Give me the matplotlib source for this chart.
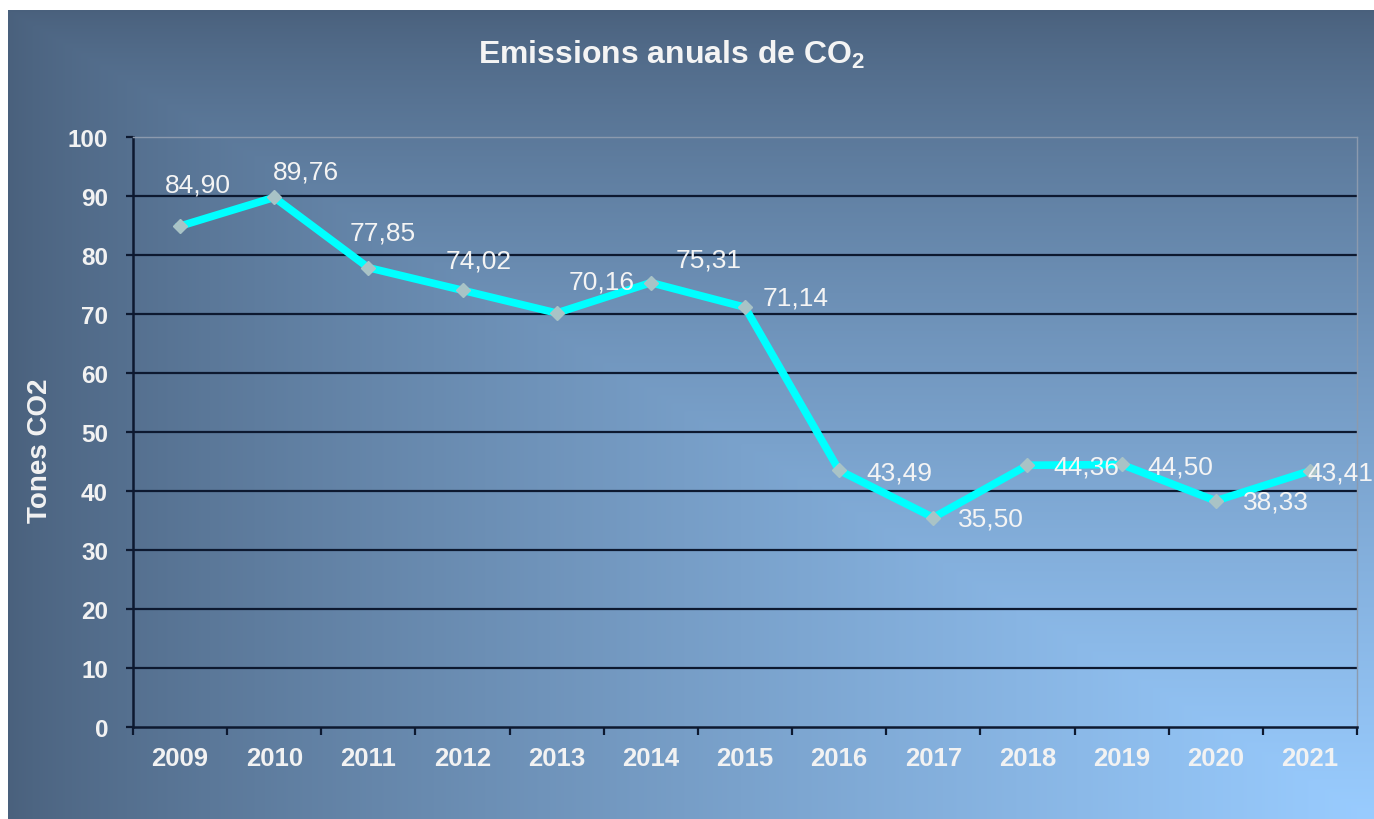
import matplotlib

matplotlib.use("Agg")
import matplotlib.pyplot as plt
import numpy as np

plt.rcParams["font.family"] = ["Liberation Sans", "DejaVu Sans"]
plt.rcParams["mathtext.fontset"] = "custom"
plt.rcParams["mathtext.rm"] = "Liberation Sans"
plt.rcParams["mathtext.bf"] = "Liberation Sans:bold"

years = ["2009", "2010", "2011", "2012", "2013", "2014", "2015",
         "2016", "2017", "2018", "2019", "2020", "2021"]
emissions = [84.90, 89.76, 77.85, 74.02, 70.16, 75.31, 71.14,
             43.49, 35.50, 44.36, 44.50, 38.33, 43.41]
yticks = [0, 10, 20, 30, 40, 50, 60, 70, 80, 90, 100]

# label offsets (pixels): left edge of text relative to point, vertical centre
label_offsets = [(-15, 42), (-1, 26), (-19, 35), (-17, 30), (12, 32), (25, 23),
                 (18, 10), (27, -2), (25, -1), (26, -1), (26, -2), (27, -1), (-3, -2)]

W, H = 1374, 820
fig = plt.figure(figsize=(W / 100, H / 100), dpi=100, facecolor="white")

# gradient backdrop (dark top/left -> light bottom-right)
bg = fig.add_axes([8 / W, 0, 1 - 8 / W, 1 - 11 / H])
u = np.linspace(0, 1, 400)[None, :]
v = np.linspace(0, 1, 300)[:, None]
f = np.minimum(u, v) ** 0.8
dark = np.array([0.29, 0.38, 0.49])
light = np.array([0.60, 0.80, 1.00])
img = dark[None, None, :] + f[..., None] * (light - dark)[None, None, :]
bg.imshow(img, aspect="auto", extent=[0, 1, 0, 1], origin="upper")
bg.set_axis_off()

ax = fig.add_axes([133 / W, 1 - 728 / H, (1357 - 133) / W, (728 - 138) / H])
ax.set_facecolor("none")

x = np.arange(len(years))
for t in yticks[1:-1]:
    ax.axhline(t, color="#0d1930", lw=1.6, zorder=1)

ax.plot(x, emissions, color="#00ffff", lw=5.5, zorder=3, solid_joinstyle="miter")
ax.plot(x, emissions, ls="none", marker="D", ms=7, color="#a9c3c6",
        mec="#a9c3c6", zorder=4)

for xi, val, (dx, dy) in zip(x, emissions, label_offsets):
    ax.annotate(f"{val:.2f}".replace(".", ","), (xi, val), xytext=(dx, dy),
                textcoords="offset pixels", ha="left", va="center",
                fontsize=19, color="#f4f4f4", zorder=5, annotation_clip=False)

ax.set_xlim(-0.5, len(years) - 0.5)
ax.set_ylim(0, 100)
ax.set_yticks(yticks)
ax.set_yticklabels([str(t) for t in yticks])
ax.set_xticks(x)
ax.set_xticklabels(years)
ax.set_xticks(np.arange(len(years) + 1) - 0.5, minor=True)
ax.tick_params(axis="x", which="major", length=0, pad=14, labelsize=18.5,
               labelcolor="#f2f2f2")
ax.tick_params(axis="x", which="minor", length=6, width=1.6, color="#0d1930",
               direction="out")
ax.tick_params(axis="y", length=5, width=1.6, color="#0d1930", pad=13,
               labelsize=17.5, labelcolor="#f2f2f2")
for lab in ax.get_xticklabels() + ax.get_yticklabels():
    lab.set_fontweight("bold")

for side in ("left", "bottom"):
    ax.spines[side].set_color("#0d1930")
    ax.spines[side].set_linewidth(1.8)
for side in ("top", "right"):
    ax.spines[side].set_color("#8c9aae")
    ax.spines[side].set_linewidth(1.0)

fig.text(672 / W, 1 - 55 / H, r"Emissions anuals de CO$_\mathbf{2}$", ha="center",
         va="center", fontsize=23, fontweight="bold", color="#f4f4f4")
fig.text(40 / W, 1 - 451 / H, "Tones CO2", rotation=90, ha="center", va="center",
         fontsize=20, fontweight="bold", color="#f2f2f2")

fig.savefig("out.png", dpi=100, facecolor="white")
